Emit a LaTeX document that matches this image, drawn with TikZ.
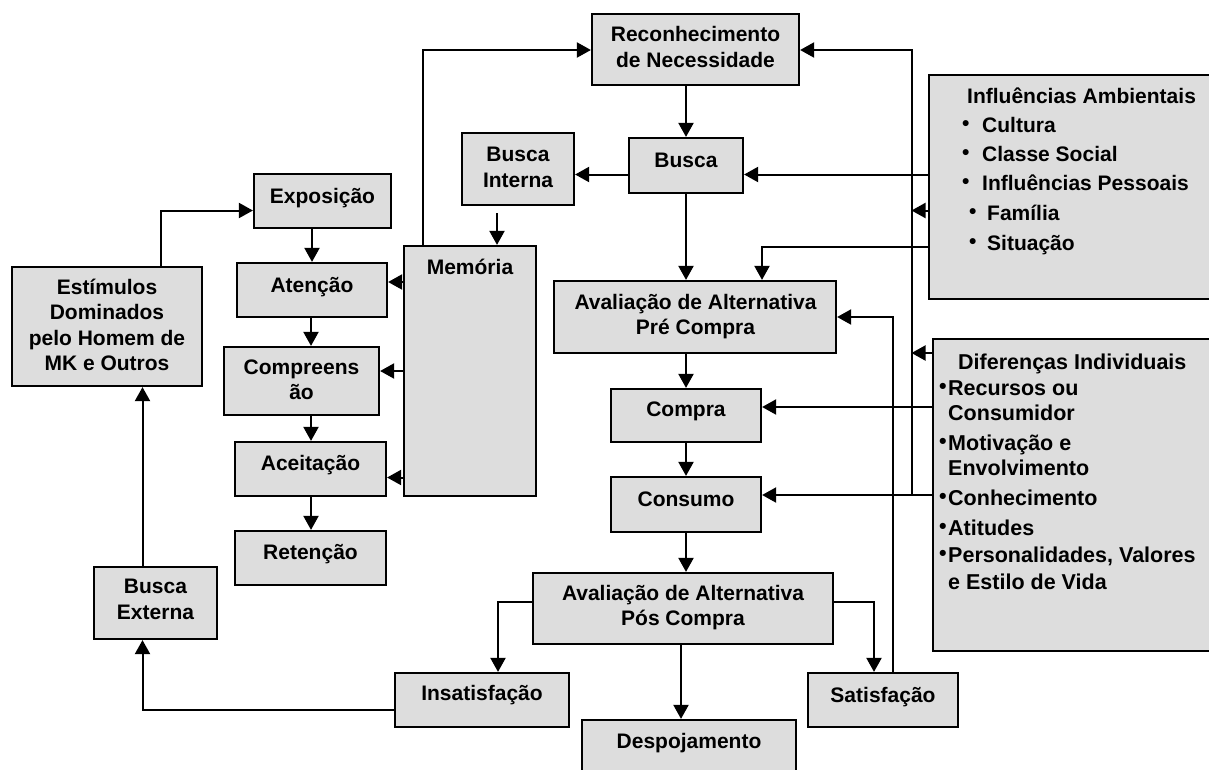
\documentclass[tikz,border=0pt]{standalone}
\usepackage{fontspec}
\setmainfont{Liberation Sans}
\usetikzlibrary{arrows.meta,calc}
\definecolor{boxgray}{RGB}{221,221,221}
\newcommand{\bul}[1]{\makebox[#1][l]{\raisebox{2pt}{•}}}
\begin{document}
\begin{tikzpicture}[x=1pt,y=-1pt,
  box/.style={draw=black, line width=2.2pt, fill=boxgray, inner sep=0pt},
  txt/.style={font=\fontsize{21}{25.5}\selectfont\bfseries, align=center, inner sep=0pt},
  lst/.style={font=\fontsize{21}{25}\selectfont\bfseries, anchor=base west, inner sep=0pt},
  lstb/.style={font=\fontsize{21.5}{25}\selectfont\bfseries, anchor=base west, inner sep=0pt},
  conn/.style={line width=2pt},
  arr/.style={conn, -{Triangle[length=14pt,width=15pt]}}]
\fill[white] (0,0) rectangle (1209,769);
\useasboundingbox (0,0) rectangle (1209,769);
\clip (0,0) rectangle (1209,769);

% boxes
\node[box, minimum width=207pt, minimum height=71pt] (reconh) at (695.5,49.5) {};
\node[box, minimum width=114pt, minimum height=55pt] (busca) at (686,165.5) {};
\node[box, minimum width=112pt, minimum height=72pt] (buscaint) at (518,169) {};
\node[box, minimum width=137pt, minimum height=54pt] (exposicao) at (322.5,201) {};
\node[box, minimum width=150pt, minimum height=54pt] (atencao) at (312,290) {};
\node[box, minimum width=155pt, minimum height=68pt] (compreensao) at (301.5,381) {};
\node[box, minimum width=151pt, minimum height=54pt] (aceitacao) at (310.5,469) {};
\node[box, minimum width=151pt, minimum height=54pt] (retencao) at (310.5,558) {};
\node[box, minimum width=132pt, minimum height=250pt] (memoria) at (470,371) {};
\node[box, minimum width=190pt, minimum height=119pt] (estimulos) at (107,326.5) {};
\node[box, minimum width=123pt, minimum height=72pt] (buscaext) at (155.5,603) {};
\node[box, minimum width=282pt, minimum height=72pt] (avpre) at (695,317) {};
\node[box, minimum width=150pt, minimum height=53pt] (compra) at (686,415.5) {};
\node[box, minimum width=150pt, minimum height=55pt] (consumo) at (686,504.5) {};
\node[box, minimum width=300pt, minimum height=71pt] (avpos) at (683,608.5) {};
\node[box, minimum width=174pt, minimum height=54pt] (insatisf) at (482,700) {};
\node[box, minimum width=214pt, minimum height=70pt] (despoj) at (689,755) {};
\node[box, minimum width=150pt, minimum height=54pt] (satisf) at (883,700) {};
\node[box, minimum width=311pt, minimum height=224pt] (infl) at (1084.5,187) {};
\node[box, minimum width=307pt, minimum height=312pt] (dif) at (1086.5,495) {};

% texts
\node[txt] (t-reconh) at (695.5,47) {Reconhecimento\\de Necessidade};
\node[txt] (t-busca) at (686,160) {Busca};
\node[txt] (t-buscaint) at (518,167.5) {Busca\\Interna};
\node[txt] (t-exposicao) at (322.5,198) {Exposição};
\node[txt] (t-atencao) at (312,287) {Atenção};
\node[txt] (t-compreensao) at (301.5,380) {Compreens\\ão};
\node[txt] (t-aceitacao) at (310.5,465) {Aceitação};
\node[txt] (t-retencao) at (310.5,554) {Retenção};
\node[txt] (t-memoria) at (470,267) {Memória};
\node[txt] (t-estimulos) at (107,325) {Estímulos\\Dominados\\pelo Homem de\\MK e Outros};
\node[txt] (t-buscaext) at (155.5,599.5) {Busca\\Externa};
\node[txt] (t-avpre) at (695.5,316.5) {Avaliação de Alternativa\\Pré Compra};
\node[txt] (t-compra) at (686,411) {Compra};
\node[txt] (t-consumo) at (686,499) {Consumo};
\node[txt] (t-avpos) at (683,607.5) {Avaliação de Alternativa\\Pós Compra};
\node[txt] (t-insatisf) at (482,695) {Insatisfação};
\node[txt] (t-despoj) at (689,743) {Despojamento};
\node[txt] (t-satisf) at (883,697) {Satisfação};

% Influencias list
\node[lst] (i0) at (967,103.5) {Influências Ambientais};
\node[lst] (i1) at (962,132.5) {\bul{20pt}Cultura};
\node[lst] (i2) at (962,161.5) {\bul{20pt}Classe Social};
\node[lst] (i3) at (962,190.5) {\bul{20pt}Influências Pessoais};
\node[lst] (i4) at (969,220.5) {\bul{18pt}Família};
\node[lst] (i5) at (969,250.5) {\bul{18pt}Situação};

% Diferencas list
\node[lstb] (d0) at (958,369.5) {Diferenças Individuais};
\node[lstb] (d1) at (939,395.5) {\bul{9pt}Recursos ou};
\node[lstb] (d2) at (948,420.5) {Consumidor};
\node[lstb] (d3) at (939,450.5) {\bul{9pt}Motivação e};
\node[lstb] (d4) at (948,475.5) {Envolvimento};
\node[lstb] (d5) at (939,505.5) {\bul{9pt}Conhecimento};
\node[lstb] (d6) at (939,535.5) {\bul{9pt}Atitudes};
\node[lstb] (d7) at (939,562.5) {\bul{9pt}Personalidades, Valores};
\node[lstb] (d8) at (948,589.5) {e Estilo de Vida};

% bus coordinates
\coordinate (bustop) at (911.5,50);
\coordinate (busbot) at (911.5,495);

% connectors
\draw[arr] (reconh.south -| busca.north) -- (busca.north);
\draw[arr] (busca.west |- 0,174.5) -- (buscaint.east |- 0,174.5);
\draw[arr] ($(buscaint.south -| 497,0)+(0,7)$) -- (memoria.north -| 497,0);
\draw[arr] (memoria.west |- 0,282) -- (atencao.east |- 0,282);
\draw[arr] (memoria.west |- 0,371) -- (compreensao.east |- 0,371);
\draw[arr] (memoria.west |- 0,477.5) -- (aceitacao.east |- 0,477.5);
\draw[arr] (memoria.north -| 423,0) |- (reconh.west |- 0,50);
\draw[arr] (exposicao.south -| atencao.north) -- (atencao.north);
\draw[arr] (atencao.south -| 311,0) -- (compreensao.north -| 311,0);
\draw[arr] (compreensao.south -| 311,0) -- (aceitacao.north -| 311,0);
\draw[arr] (aceitacao.south -| 311,0) -- (retencao.north -| 311,0);
\draw[arr] (estimulos.north -| 161,0) |- (exposicao.west |- 0,210.5);
\draw[arr] (buscaext.north -| 142.5,0) -- (estimulos.south -| 142.5,0);
\draw[arr] (insatisf.west |- 0,710) -| (buscaext.south -| 142.5,0);
\draw[arr] (avpos.west |- 0,602) -| (insatisf.north -| 498,0);
\draw[arr] (avpos.east |- 0,602) -| (satisf.north -| 874,0);
\draw[arr] (avpos.south -| 681,0) -- (despoj.north -| 681,0);
\draw[arr] (satisf.north -| 892.5,0) |- (avpre.east |- 0,317);
\draw[arr] (busca.south) -- (avpre.north -| busca.south);
\draw[arr] (avpre.south -| compra.north) -- (compra.north);
\draw[arr] (compra.south) -- (consumo.north);
\draw[arr] (consumo.south) -- (avpos.north -| consumo.south);
\draw[arr] (infl.west |- 0,174.5) -- (busca.east |- 0,174.5);
\draw[arr] (infl.west |- 0,246.5) -| (avpre.north -| 762,0);
\draw[arr] (infl.west |- 0,210.5) -- (bustop |- 0,210.5);
\draw[arr] (dif.west |- 0,353) -- (bustop |- 0,353);
\draw[arr] (busbot) -- (bustop) -- (reconh.east |- bustop);
\draw[arr] (dif.west |- 0,407) -- (compra.east |- 0,407);
\draw[arr] (dif.west |- 0,495) -- (consumo.east |- 0,495);
\end{tikzpicture}
\end{document}
